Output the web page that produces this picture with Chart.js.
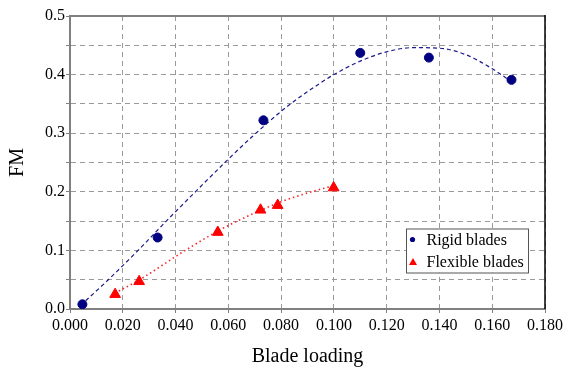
<!DOCTYPE html>
<html>
<head>
<meta charset="utf-8">
<script src="https://cdn.jsdelivr.net/npm/chart.js@4/dist/chart.umd.min.js"></script>
<style>
  html, body { margin: 0; padding: 0; background: #fff; }
  #wrap { width: 566px; height: 367px; position: relative; }
</style>
</head>
<body>
<div id="wrap"><canvas id="c" width="566" height="367"></canvas></div>
<script>
// ---- data ----
const seriesNames = ['Rigid blades', 'Flexible blades'];
const loadingRigid = [0.0047, 0.0332, 0.0733, 0.1100, 0.1360, 0.1673];
const fmRigid = [0.008, 0.122, 0.322, 0.437, 0.429, 0.391];
const loadingFlexible = [0.0171, 0.0262, 0.0560, 0.0722, 0.0787, 0.0999];
const fmFlexible = [0.025, 0.047, 0.131, 0.169, 0.177, 0.207];
// trend lines
const trendRigidX = [0.004, 0.015, 0.026, 0.0365, 0.0475, 0.0596, 0.069, 0.0824, 0.095, 0.100, 0.110, 0.120, 0.130, 0.140, 0.150, 0.160, 0.166];
const trendRigidY = [0.006, 0.052, 0.101, 0.150, 0.200, 0.254, 0.294, 0.346, 0.386, 0.400, 0.423, 0.439, 0.446, 0.445, 0.434, 0.410, 0.392];
const trendFlexX = [0.017, 0.026, 0.0437, 0.056, 0.0634, 0.072, 0.080, 0.090, 0.0995];
const trendFlexY = [0.027, 0.049, 0.100, 0.133, 0.150, 0.168, 0.183, 0.198, 0.210];
const xTitle = 'Blade loading';
const yTitle = 'FM';

const pts = (xs, ys) => xs.map((x, i) => ({ x: x, y: ys[i] }));

const FONT = "'Liberation Serif', 'Times New Roman', serif";

const frameLegend = {
  id: 'frameLegend',
  afterDatasetsDraw(chart) {
    const { ctx, chartArea: a } = chart;
    ctx.save();
    // top border (gray) and right border (black)
    ctx.strokeStyle = '#808080';
    ctx.lineWidth = 2;
    ctx.beginPath(); ctx.moveTo(a.left - 1, a.top); ctx.lineTo(a.right, a.top); ctx.stroke();
    ctx.strokeStyle = '#000';
    ctx.lineWidth = 1.5;
    ctx.beginPath(); ctx.moveTo(a.right, a.top - 1); ctx.lineTo(a.right, a.bottom); ctx.stroke();

    // legend box
    const bx = a.right - 139, by = a.top + 212.5, bw = 122, bh = 44;
    ctx.fillStyle = '#fff';
    ctx.fillRect(bx, by, bw, bh);
    ctx.strokeStyle = '#555';
    ctx.lineWidth = 1;
    ctx.strokeRect(bx + 0.5, by + 0.5, bw, bh);
    ctx.font = '16px ' + FONT;
    ctx.textBaseline = 'middle';
    ctx.textAlign = 'left';
    const ds = chart.data.datasets;
    // item 1: circle
    ctx.fillStyle = ds[0].backgroundColor;
    ctx.beginPath(); ctx.arc(bx + 6.5, by + 11, 2.6, 0, Math.PI * 2); ctx.fill();
    ctx.fillStyle = '#000';
    ctx.fillText(ds[0].label, bx + 20.5, by + 12);
    // item 2: triangle
    ctx.fillStyle = ds[1].backgroundColor;
    const tx = bx + 7, ty = by + 34;
    ctx.beginPath(); ctx.moveTo(tx, ty - 4.5); ctx.lineTo(tx + 4, ty + 2.5); ctx.lineTo(tx - 4, ty + 2.5); ctx.closePath(); ctx.fill();
    ctx.fillStyle = '#000';
    ctx.fillText(ds[1].label, bx + 20.5, by + 34);
    ctx.restore();
  }
};

new Chart(document.getElementById('c'), {
  type: 'scatter',
  data: {
    datasets: [
      { label: seriesNames[0], data: pts(loadingRigid, fmRigid), backgroundColor: '#000080', borderColor: '#000080',
        pointStyle: 'circle', pointRadius: 4.5, pointHoverRadius: 4.5, showLine: false },
      { label: seriesNames[1], data: pts(loadingFlexible, fmFlexible), backgroundColor: '#ff0000', borderColor: '#ff0000',
        pointStyle: 'triangle', pointRadius: 6.2, pointHoverRadius: 6.2, showLine: false },
      { label: 'Rigid trend', data: pts(trendRigidX, trendRigidY), showLine: true, pointRadius: 0,
        borderColor: '#1a1a8c', borderWidth: 1.2, borderDash: [4, 3], cubicInterpolationMode: 'monotone', fill: false },
      { label: 'Flexible trend', data: pts(trendFlexX, trendFlexY), showLine: true, pointRadius: 0,
        borderColor: '#ff2020', borderWidth: 1.6, borderDash: [1.5, 3], cubicInterpolationMode: 'monotone', fill: false }
    ]
  },
  options: {
    responsive: false,
    animation: false,
    layout: { padding: { top: 16, right: 21, left: 0, bottom: 0 } },
    plugins: { legend: { display: false }, tooltip: { enabled: false } },
    scales: {
      x: {
        type: 'linear', min: 0, max: 0.18,
        afterFit(s) { s.height = 58; },
        ticks: { stepSize: 0.02, color: '#000', font: { family: FONT, size: 16 }, padding: 3,
                 maxRotation: 0, autoSkip: false,
                 callback: v => v.toFixed(3) },
        grid: { color: '#9a9a9a', lineWidth: 1, drawTicks: true, tickLength: 4, tickColor: '#808080', tickBorderDash: [] },
        border: { display: true, color: '#808080', width: 2, dash: [5, 4] },
        title: { display: true, text: xTitle, color: '#000', font: { family: FONT, size: 20 }, padding: { top: 0, bottom: -2 } }
      },
      y: {
        type: 'linear', min: 0, max: 0.5,
        afterFit(s) { s.width = 70; },
        ticks: { stepSize: 0.05, color: '#000', font: { family: FONT, size: 16 }, padding: 1, autoSkip: false,
                 callback: v => (Math.round(v * 100) % 10 === 0 ? v.toFixed(1) : '') },
        grid: { color: '#9a9a9a', lineWidth: 1, drawTicks: true, tickLength: 4, tickColor: '#808080', tickBorderDash: [] },
        border: { display: true, color: '#808080', width: 2, dash: [5, 4] },
        title: { display: true, text: yTitle, color: '#000', font: { family: FONT, size: 20 }, padding: { top: 6, bottom: 0 } }
      }
    }
  },
  plugins: [frameLegend]
});
</script>
</body>
</html>
